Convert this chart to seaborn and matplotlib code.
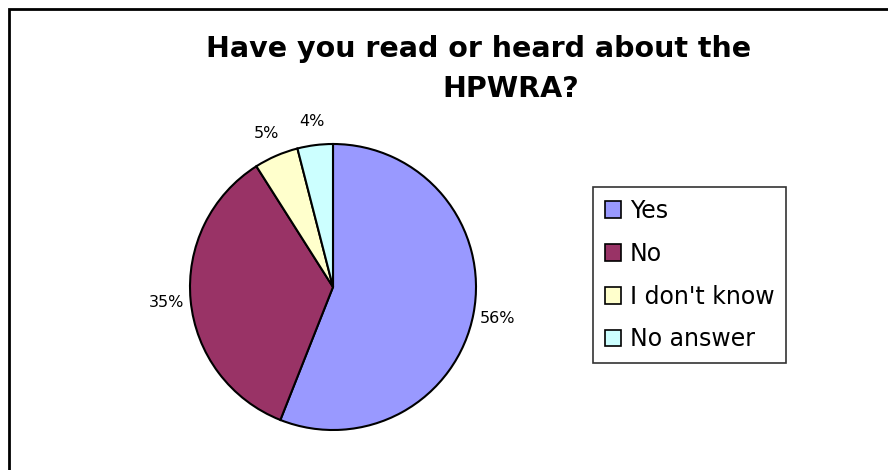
import matplotlib
matplotlib.use("Agg")
import matplotlib.pyplot as plt
import matplotlib.patches as mpatches
import seaborn as sns

categories = ["Yes", "No", "I don't know", "No answer"]
values = [56, 35, 5, 4]
colors = ["#9999FF", "#993366", "#FFFFCC", "#CCFFFF"]
title_lines = ["Have you read or heard about the", "HPWRA?"]

sns.set_theme(style="white")
plt.rcParams['font.family'] = ['DejaVu Sans']
plt.rcParams['text.color'] = 'black'

W, H = 888, 470
fig = plt.figure(figsize=(W / 100, H / 100), dpi=100)
fig.patch.set_facecolor("white")

# outer chart border (top and left visible)
fig.patches.append(mpatches.Rectangle((9 / W, -0.1), 1.2, 1 - 9 / H + 0.1,
                                      transform=fig.transFigure, fill=False,
                                      edgecolor="black", linewidth=2.0))

cx, cy, r = 333, 287, 143
half = 150
ax = fig.add_axes([(cx - half) / W, (H - cy - half) / H, 2 * half / W, 2 * half / H])
wedges, texts, autotexts = ax.pie(
    values, colors=colors, startangle=90, counterclock=False,
    autopct=lambda p: f"{p:.0f}%", pctdistance=1.17,
    wedgeprops=dict(edgecolor="black", linewidth=1.5),
    textprops=dict(fontsize=11.5, color="black"), radius=1.0)
lim = half / r
ax.set_xlim(-lim, lim)
ax.set_ylim(-lim, lim)
ax.set_aspect("equal")
ax.axis("off")

fig.text(479 / W, 1 - 49 / H, title_lines[0], ha="center", va="center",
         fontsize=20.5, fontweight="bold", color="black")
fig.text(511 / W, 1 - 89 / H, title_lines[1], ha="center", va="center",
         fontsize=20.5, fontweight="bold", color="black")

leg = fig.legend(wedges, categories, loc="upper left",
                 bbox_to_anchor=(593 / W, 1 - 187 / H), borderaxespad=0,
                 fontsize=17, frameon=True, fancybox=False, shadow=False,
                 handlelength=0.7, handleheight=0.7, handletextpad=0.35,
                 labelspacing=0.8, borderpad=0.5, labelcolor="black")
frame = leg.get_frame()
frame.set_edgecolor("black")
frame.set_linewidth(1.2)
for h in leg.legend_handles:
    h.set_linewidth(1.2)

fig.savefig("out.png", dpi=100, facecolor="white")
